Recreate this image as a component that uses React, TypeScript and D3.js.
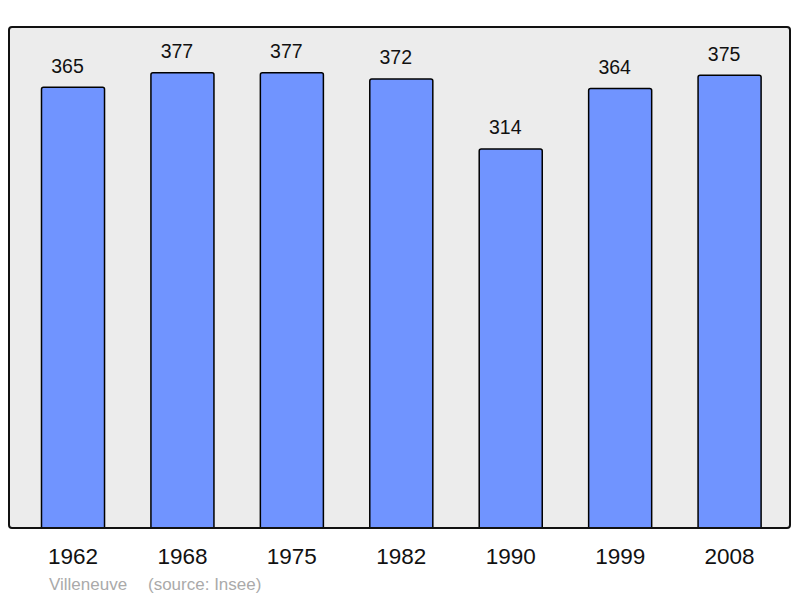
import React from "react";
import * as d3 from "d3";

const years = ["1962", "1968", "1975", "1982", "1990", "1999", "2008"];
const population = [365, 377, 377, 372, 314, 364, 375];
const footerName = "Villeneuve";
const footerSource = "(source: Insee)";

export default function App() {
  const W = 800, H = 598;
  const box = { x0: 9, y0: 27, x1: 790, y1: 528 };
  const x = d3.scaleBand<string>().domain(years).range([18.3, 784.3]).paddingInner(0.424).paddingOuter(0.212);
  const y = d3.scaleLinear().domain([0, 415]).range([box.y1, box.y0]);
  const font = "'Liberation Sans', Arial, sans-serif";
  return (
    <svg width={W} height={H} style={{ position: "absolute", left: 0, top: 0 }} fontFamily={font}>
      <defs>
        <clipPath id="plotclip">
          <rect x={box.x0} y={box.y0} width={box.x1 - box.x0} height={box.y1 - box.y0} />
        </clipPath>
      </defs>
      <rect x={box.x0} y={box.y0} width={box.x1 - box.x0} height={box.y1 - box.y0} rx={3} fill="#ececec" stroke="none" />
      {population.map((v, i) => {
        const bx = x(years[i])!;
        const by = y(v);
        return (
          <g key={years[i]}>
            <rect x={bx} y={by} width={x.bandwidth()} height={box.y1 - by + 4} rx={2} fill="#7094ff" stroke="#000" strokeWidth={1.5} clipPath="url(#plotclip)" />
            <text x={bx + x.bandwidth() / 2 - 5.5} y={by - 14.5} textAnchor="middle" fontSize={19.5} fill="#111">{v}</text>
            <text x={bx + x.bandwidth() / 2} y={564} textAnchor="middle" fontSize={22.5} fill="#111">{years[i]}</text>
          </g>
        );
      })}
      <rect x={box.x0} y={box.y0} width={box.x1 - box.x0} height={box.y1 - box.y0} rx={3} fill="none" stroke="#111" strokeWidth={2} />
      <text x={49} y={590} fontSize={17} fill="#aaa">{footerName}</text>
      <text x={148} y={590} fontSize={17} fill="#aaa">{footerSource}</text>
    </svg>
  );
}
